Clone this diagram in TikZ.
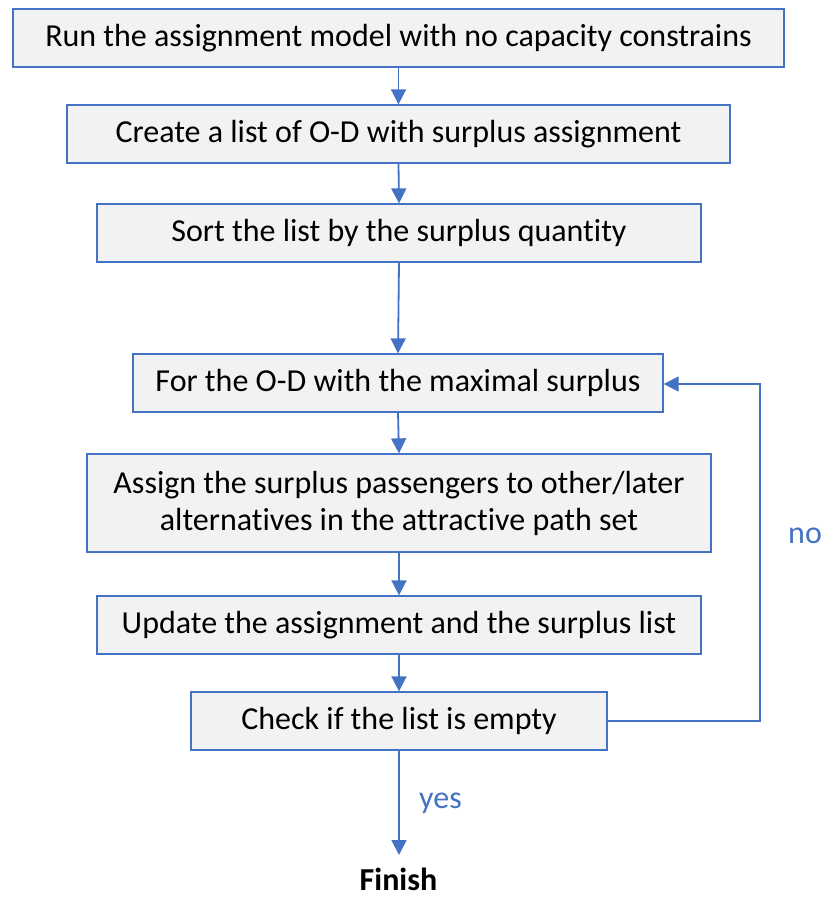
\documentclass[tikz,border=0pt]{standalone}
\usepackage{fontspec}
\setmainfont[Ligatures=NoCommon]{Carlito}
\usetikzlibrary{arrows.meta}
\definecolor{lineblue}{HTML}{4472C4}
\definecolor{boxfill}{HTML}{F2F2F2}
\begin{document}
\begin{tikzpicture}[x=1pt,y=1pt,
  stepbox/.style={draw=lineblue,line width=1.3pt,fill=boxfill,inner sep=0pt,
    minimum height=58pt,align=center,font=\fontsize{32}{37}\selectfont},
  flow/.style={draw=lineblue,line width=1.8pt,-{Triangle[width=15pt,length=15pt]}},
  lbl/.style={text=lineblue,inner sep=0pt,font=\fontsize{32}{37}\selectfont}]
\useasboundingbox (0,0) rectangle (823,-899);
\node[stepbox,minimum width=771pt] (b1) at (398.5,-38) {Run the assignment model with no capacity constrains};
\node[stepbox,minimum width=663pt] (b2) at (398.5,-134) {Create a list of O-D with surplus assignment};
\node[stepbox,minimum width=604pt] (b3) at (399,-233) {Sort the list by the surplus quantity};
\node[stepbox,minimum width=530pt] (b4) at (398,-383) {For the O-D with the maximal surplus};
\node[stepbox,minimum width=624pt,minimum height=98pt] (b5) at (399,-503) {Assign the surplus passengers to other/later\\alternatives in the attractive path set};
\node[stepbox,minimum width=604pt] (b6) at (399,-625) {Update the assignment and the surplus list};
\node[stepbox,minimum width=416pt] (b7) at (399,-721) {Check if the list is empty};
\node[inner sep=0pt,anchor=base,font=\fontsize{32}{37}\selectfont\bfseries] (fin) at (398.5,-890) {Finish};
\coordinate (tip) at (399,-855);
\coordinate (c1) at (760,-721);
\coordinate (c2) at (760,-384);
\node[lbl,anchor=base west] (yes) at (419,-808) {yes};
\node[lbl,anchor=base west] (no) at (788,-543) {no};
\draw[flow] (b1.south) -- (b2.north);
\draw[flow] (b2.south) -- (b3.north);
\draw[flow] (b3.south) -- (b4.north);
\draw[flow] (b4.south) -- (b5.north);
\draw[flow] (b5.south) -- (b6.north);
\draw[flow] (b6.south) -- (b7.north);
\draw[flow] (b7.south) -- (tip);
\draw[flow,line width=1.5pt] (b7.east) -- (c1) -- (c2) -- (b4.east |- c2);
\end{tikzpicture}
\end{document}
